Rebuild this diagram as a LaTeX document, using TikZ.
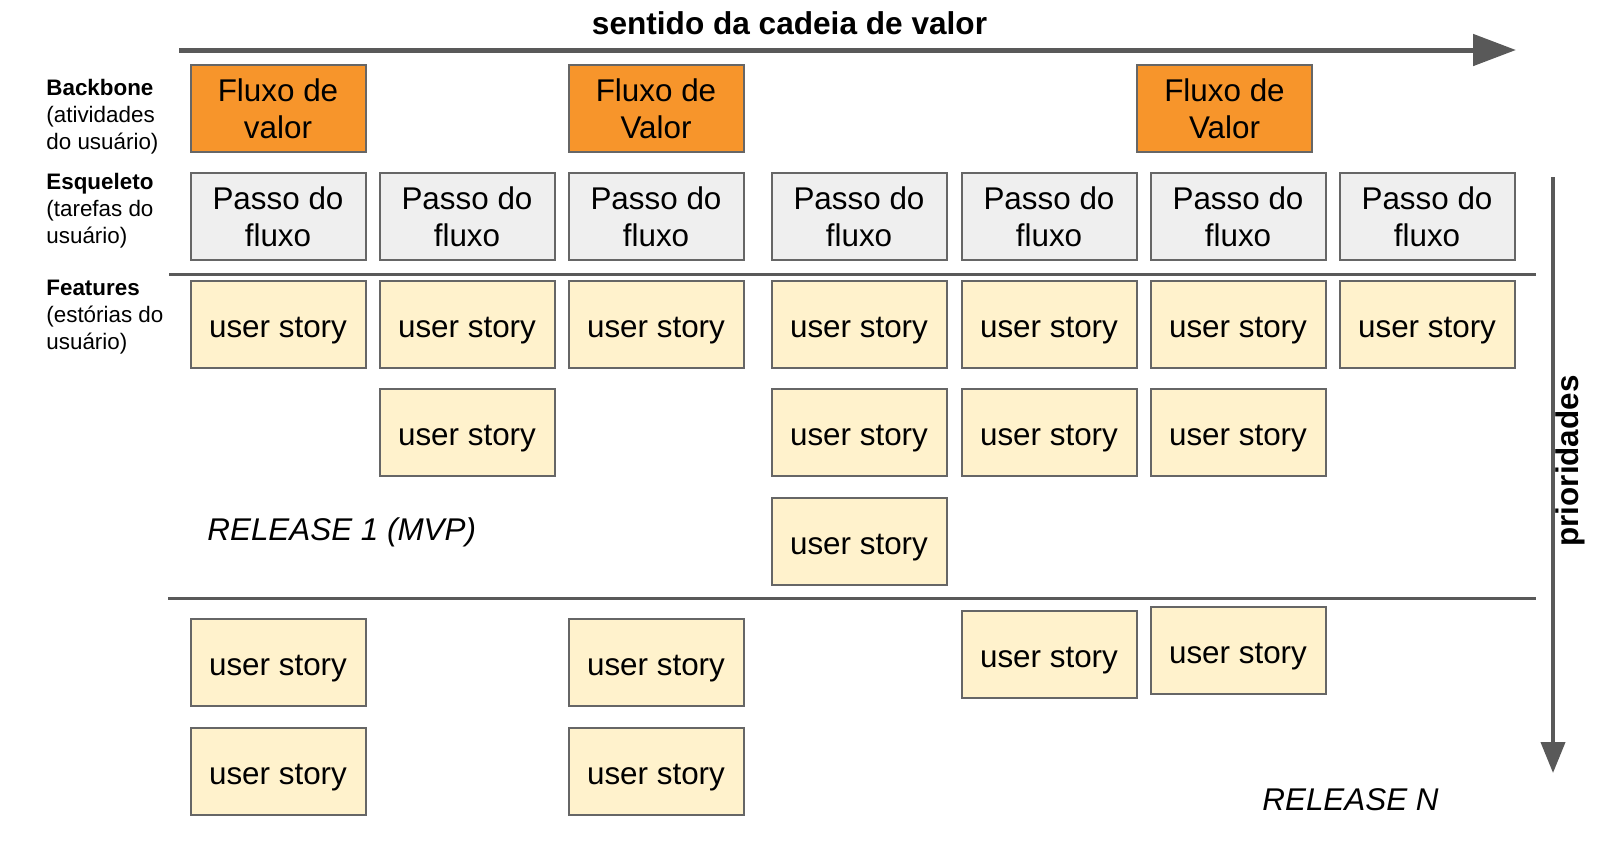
\documentclass[tikz,border=0pt]{standalone}
\usepackage{fontspec}
\setmainfont{Liberation Sans}
\usetikzlibrary{arrows.meta}
\definecolor{laranja}{HTML}{F7952B}
\definecolor{cinza}{HTML}{EFEFEF}
\definecolor{creme}{HTML}{FFF2CC}
\definecolor{borda}{HTML}{666666}
\definecolor{seta}{HTML}{595959}

\begin{document}
\begin{tikzpicture}[x=0.5pt,y=-0.5pt,
    caixa/.style={draw=borda,line width=1pt,minimum width=87.5pt,minimum height=43.5pt,inner sep=0pt,align=center,font=\fontsize{15.7}{18.5}\selectfont},
    fluxo/.style={caixa,fill=laranja},
    passo/.style={caixa,fill=cinza},
    story/.style={caixa,fill=creme,text height=14pt,text depth=1pt},
    rotulo/.style={anchor=north west,align=left,inner sep=0pt,font=\fontsize{11.2}{13.5}\selectfont},
    release/.style={anchor=base west,inner sep=0pt,font=\fontsize{15.7}{18}\selectfont\itshape}]
        \useasboundingbox (0,0) rectangle (1600,853);
        \node[anchor=base,inner sep=0pt,font=\fontsize{15.8}{18}\selectfont\bfseries] (titulo) at (789.5,34) {sentido da cadeia de valor};
        \coordinate (h0) at (179,50);
        \coordinate (h1) at (1516,50);
        \draw[seta,line width=2.5pt,-{Triangle[length=21.5pt,width=15.5pt]}] (h0) -- (h1);
        \node[rotulo] (backbone) at (46,79) {\textbf{Backbone}\\(atividades\\do usuário)};
        \node[rotulo] (esqueleto) at (46,173) {\textbf{Esqueleto}\\(tarefas do\\usuário)};
        \node[rotulo] (features) at (46,280) {\textbf{Features}\\(estórias do\\usuário)};
        \node[fluxo] (f1) at (278,108.5) {Fluxo de\\valor};
        \node[fluxo] (f2) at (656,108.5) {Fluxo de\\Valor};
        \node[fluxo] (f3) at (1224.5,108.5) {Fluxo de\\Valor};
        \foreach \i/\x in {1/278, 2/467, 3/656, 4/859, 5/1049, 6/1238, 7/1427} {
            \node[passo] (p\i) at (\x,216.5) {Passo do\\fluxo};
            \node[story] (s\i) at (\x,324.5) {user story};
        }
        \foreach \i/\x/\y in {2/467/432.5, 4/859/432.5, 5/1049/432.5, 6/1238/432.5, 4/859/541}
        \node[story] (t\i\y) at (\x,\y) {user story};
        \coordinate (a0) at (169,274);
        \coordinate (a1) at (1536,274);
        \draw[seta,line width=1.5pt] (a0) -- (a1);
        \node[release] (r1) at (207,540) {RELEASE 1 (MVP)};
        \coordinate (b0) at (168,598);
        \coordinate (b1) at (1536,598);
        \draw[seta,line width=1.5pt] (b0) -- (b1);
        \foreach \i/\x/\y in {1/278/662.5, 2/278/771, 3/656/662.5, 4/656/771, 5/1049/654.5, 6/1238/650.5}
        \node[story] (u\i) at (\x,\y) {user story};
        \node[release] (rn) at (1262,810) {RELEASE N};
        \coordinate (v0) at (1553,177);
        \coordinate (v1) at (1553,773);
        \draw[seta,line width=2pt,-{Triangle[length=15.5pt,width=12pt]}] (v0) -- (v1);
        \node[rotate=90,inner sep=0pt,font=\fontsize{15.7}{18}\selectfont\bfseries] (prior) at (1570.5,461) {prioridades};
      \end{tikzpicture}
\end{document}
